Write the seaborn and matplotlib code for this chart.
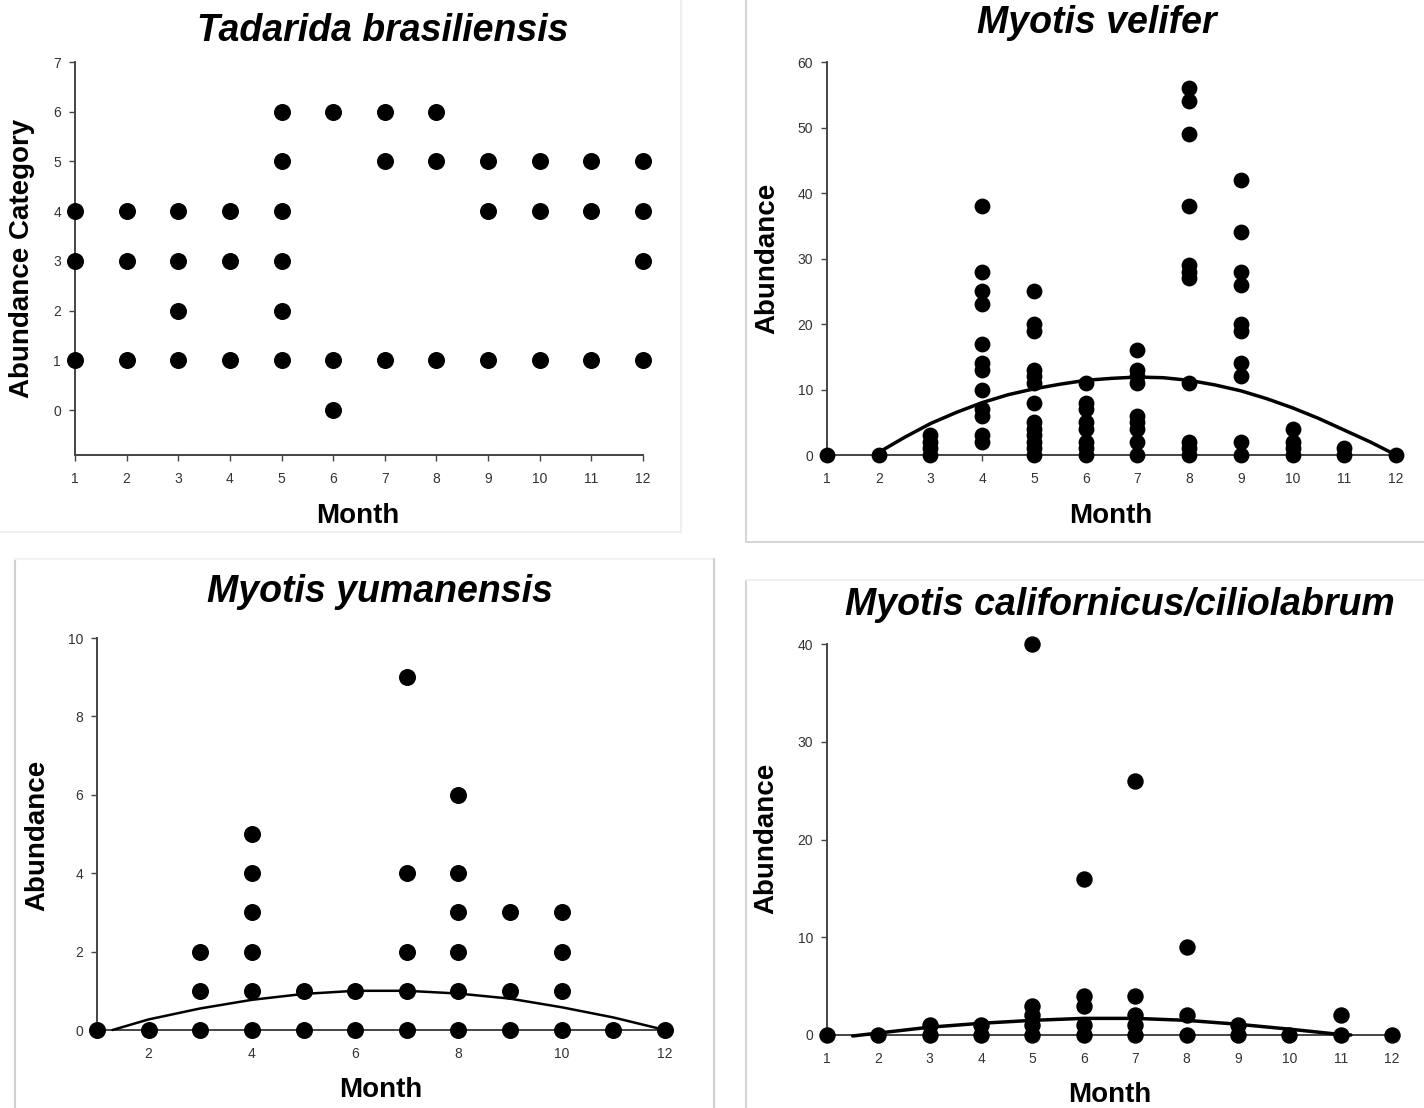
import numpy as np
import pandas as pd
import matplotlib
matplotlib.use("Agg")
import matplotlib.pyplot as plt
from matplotlib.lines import Line2D
import seaborn as sns

months = list(range(1, 13))

tadarida_values = [
    [1, 3, 4], [1, 3, 4], [1, 2, 3, 4], [1, 3, 4], [1, 2, 3, 4, 5, 6], [0, 1, 6],
    [1, 5, 6], [1, 5, 6], [1, 4, 5], [1, 4, 5], [1, 4, 5], [1, 3, 4, 5],
]
velifer_values = [
    [0], [0], [0, 1, 2, 3],
    [2, 3, 6, 7, 10, 13, 14, 17, 23, 25, 28, 38],
    [0, 1, 2, 3, 4, 5, 8, 11, 12, 13, 19, 20, 25],
    [0, 1, 2, 4, 5, 7, 8, 11],
    [0, 2, 4, 5, 6, 11, 12, 13, 16],
    [0, 1, 2, 11, 27, 28, 29, 38, 49, 54, 56],
    [0, 2, 12, 14, 19, 20, 26, 28, 34, 42],
    [0, 1, 2, 4], [0, 1], [0],
]
yumanensis_values = [
    [0], [0], [0, 1, 2], [0, 1, 2, 3, 4, 5], [0, 1], [0, 1],
    [0, 1, 2, 4, 9], [0, 1, 2, 3, 4, 6], [0, 1, 3], [0, 1, 2, 3], [0], [0],
]
californicus_values = [
    [0], [0], [0, 1], [0, 1], [0, 1, 2, 3, 40], [0, 1, 3, 4, 16],
    [0, 1, 2, 4, 26], [0, 2, 9], [0, 1], [0], [0, 2], [0],
]

# Fitted curves
velifer_curve_x = [2, 2.5, 3, 3.5, 4, 4.5, 5, 5.5, 6, 6.5, 7, 7.5, 8, 8.5, 9, 9.5, 10, 10.5, 11, 11.5, 12]
velifer_curve_y = [0.4, 2.7, 4.8, 6.5, 8.0, 9.2, 10.1, 10.8, 11.4, 11.7, 11.9, 11.8, 11.4, 10.7, 9.8, 8.6, 7.2, 5.6, 3.8, 2.0, 0.0]
yumanensis_curve_x = [1.3, 2, 3, 4, 5, 6, 7, 8, 9, 10, 11, 12]
yumanensis_curve_y = [0.0, 0.27, 0.55, 0.77, 0.92, 1.0, 1.0, 0.93, 0.8, 0.58, 0.32, 0.0]
californicus_curve_x = [1.5, 2, 3, 4, 5, 6, 7, 8, 9, 10, 11, 11.2]
californicus_curve_y = [-0.1, 0.2, 0.8, 1.2, 1.5, 1.7, 1.7, 1.5, 1.1, 0.6, 0.05, 0.0]

W, H = 1424, 1108
sns.set_theme(style="white")
plt.rcParams["font.family"] = ["Liberation Sans", "DejaVu Sans"]

fig = plt.figure(figsize=(W / 100, H / 100), dpi=100)
fig.patch.set_facecolor("white")


def to_frame(values):
    rows = [(m, v) for m, vals in zip(months, values) for v in vals]
    return pd.DataFrame(rows, columns=["Month", "Abundance"])


def add_panel(left, right, top, bottom, ylim):
    ax = fig.add_axes([left / W, 1 - bottom / H, (right - left) / W, (bottom - top) / H])
    ax.set_xlim(1, 12)
    ax.set_ylim(*ylim)
    for s in ["top", "right"]:
        ax.spines[s].set_visible(False)
    for s in ["left", "bottom"]:
        ax.spines[s].set_color("#444444")
        ax.spines[s].set_linewidth(1.4)
    ax.tick_params(axis="both", which="both", direction="out", length=4, width=1,
                   color="#444444", labelsize=10, labelcolor="#333333",
                   left=True, bottom=True)
    ax.tick_params(axis="x", pad=8)
    ax.tick_params(axis="y", pad=6)
    ax.set_xlabel("")
    ax.set_ylabel("")
    ax.set_facecolor("white")
    return ax


def scatter(ax, values, size):
    df = to_frame(values)
    sns.scatterplot(data=df, x="Month", y="Abundance", ax=ax, color="black",
                    s=size, edgecolor="black", linewidth=0, clip_on=False,
                    zorder=3, legend=False)
    ax.set_xlabel("")
    ax.set_ylabel("")


def curve(ax, xs, ys, lw):
    df = pd.DataFrame({"Month": xs, "Fit": ys})
    sns.lineplot(data=df, x="Month", y="Fit", ax=ax, color="black", linewidth=lw,
                 sort=False, estimator=None, clip_on=False, zorder=4)
    ax.set_xlabel("")
    ax.set_ylabel("")


def fig_text(x, y, s, **kw):
    fig.text(x / W, 1 - y / H, s, ha="center", va="center", color="black", **kw)


def border(x0, y0, x1, y1, color):
    fig.add_artist(Line2D([x0 / W, x1 / W], [1 - y0 / H, 1 - y1 / H],
                          transform=fig.transFigure, color=color, linewidth=1.5))


# Panel frames of the composite
border(681, 0, 681, 532, "#efefef")
border(0, 532, 681, 532, "#efefef")
border(746, 0, 746, 542, "#d6d6d6")
border(746, 542, 1424, 542, "#d6d6d6")
border(15, 559, 15, 1108, "#d0d0d0")
border(15, 559, 714, 559, "#f2f2f2")
border(714, 559, 714, 1108, "#d0d0d0")
border(746, 580, 746, 1108, "#d6d6d6")
border(746, 580, 1424, 580, "#f0f0f0")

title_kw = dict(fontsize=27, fontweight="bold", fontstyle="italic")
label_kw = dict(fontsize=20, fontweight="bold")

# Tadarida brasiliensis
ax1 = add_panel(75, 643, 62, 455, (-0.9, 7))
scatter(ax1, tadarida_values, 150)
ax1.set_xticks(months)
ax1.set_yticks(range(0, 8))
fig_text(383, 31, "Tadarida brasiliensis", **title_kw)
fig_text(358, 516, "Month", **label_kw)
fig_text(22, 258, "Abundance Category", rotation=90, **label_kw)

# Myotis velifer
ax2 = add_panel(827, 1396, 62, 455, (0, 60))
scatter(ax2, velifer_values, 130)
curve(ax2, velifer_curve_x, velifer_curve_y, 2.5)
ax2.set_xticks(months)
ax2.set_yticks(range(0, 61, 10))
fig_text(1097, 23, "Myotis velifer", **title_kw)
fig_text(1111, 516, "Month", **label_kw)
fig_text(767, 258, "Abundance", rotation=90, **label_kw)

# Myotis yumanensis
ax3 = add_panel(97, 665, 638, 1030, (0, 10))
scatter(ax3, yumanensis_values, 150)
curve(ax3, yumanensis_curve_x, yumanensis_curve_y, 1.8)
ax3.set_xticks(range(2, 13, 2))
ax3.set_yticks(range(0, 11, 2))
fig_text(380, 592, "Myotis yumanensis", **title_kw)
fig_text(381, 1090, "Month", **label_kw)
fig_text(37, 835, "Abundance", rotation=90, **label_kw)

# Myotis californicus/ciliolabrum
ax4 = add_panel(827, 1392, 644, 1035, (0, 40))
scatter(ax4, californicus_values, 140)
curve(ax4, californicus_curve_x, californicus_curve_y, 2.5)
ax4.set_xticks(months)
ax4.set_yticks(range(0, 41, 10))
fig_text(1120, 605, "Myotis californicus/ciliolabrum", **title_kw)
fig_text(1110, 1095, "Month", **label_kw)
fig_text(766, 838, "Abundance", rotation=90, **label_kw)

fig.savefig("out.png", dpi=100, facecolor="white")
